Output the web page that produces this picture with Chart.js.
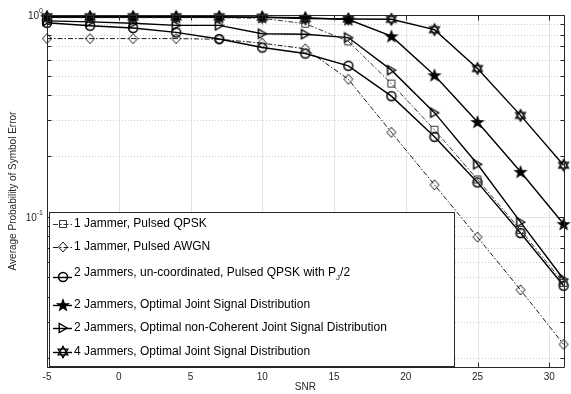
<!DOCTYPE html>
<html>
<head>
<meta charset="utf-8">
<script src="https://cdn.jsdelivr.net/npm/chart.js@4.4.1/dist/chart.umd.min.js"></script>
<style>
  html, body { margin: 0; padding: 0; background: #fff; }
  #wrap { width: 571px; height: 394px; }
</style>
</head>
<body>
<div id="wrap"><canvas id="chart" width="571" height="394"></canvas></div>
<script>
// SNR points (dB)
const snr = [-5, -2, 1, 4, 7, 10, 13, 16, 19, 22, 25, 28, 31];

// average probability of symbol error
const oneJamQpsk   = [0.97, 0.97, 0.97, 0.97, 0.97, 0.962, 0.906, 0.740, 0.457, 0.270, 0.153, 0.086, 0.047];
const oneJamAwgn   = [0.764, 0.764, 0.764, 0.764, 0.758, 0.725, 0.680, 0.480, 0.262, 0.144, 0.0792, 0.0434, 0.0233];
const twoJamUncoord = [0.915, 0.885, 0.862, 0.820, 0.760, 0.690, 0.644, 0.560, 0.396, 0.249, 0.148, 0.083, 0.0455];
const twoJamJoint  = [0.975, 0.975, 0.975, 0.975, 0.975, 0.975, 0.970, 0.950, 0.785, 0.503, 0.295, 0.167, 0.092];
const twoJamNonCoh = [0.935, 0.925, 0.910, 0.888, 0.888, 0.808, 0.803, 0.773, 0.533, 0.328, 0.182, 0.094, 0.049];
const fourJamJoint = [0.98, 0.98, 0.98, 0.98, 0.98, 0.975, 0.960, 0.955, 0.952, 0.846, 0.543, 0.318, 0.180];

const labels = [
  "1 Jammer, Pulsed QPSK",
  "1 Jammer, Pulsed AWGN",
  "2 Jammers, un-coordinated, Pulsed QPSK with P",
  "2 Jammers, Optimal Joint Signal Distribution",
  "2 Jammers, Optimal non-Coherent Joint Signal Distribution",
  "4 Jammers, Optimal Joint Signal Distribution"
];

const xTicks = [-5, 0, 5, 10, 15, 20, 25, 30];
const yTicks = [0.02, 0.03, 0.04, 0.05, 0.06, 0.07, 0.08, 0.09, 0.1,
                0.2, 0.3, 0.4, 0.5, 0.6, 0.7, 0.8, 0.9, 1];
const yMajor = [0.1, 1];

const FONT = "'Liberation Sans', Arial, sans-serif";
const AXIS_COLOR = "#262626";

// markers drawn like the matlab ones (unfilled, except the pentagram)
function marker(kind) {
  const size = 16;
  const c = document.createElement("canvas");
  c.width = size; c.height = size;
  const g = c.getContext("2d");
  const m = size / 2;
  g.strokeStyle = "#000";
  g.fillStyle = "#000";
  g.lineWidth = 1.3;
  g.beginPath();
  if (kind === "square") {
    g.strokeStyle = "#333";
    g.lineWidth = 1;
    g.rect(m - 3.5, m - 3.5, 7, 7);
  } else if (kind === "diamond") {
    g.lineWidth = 0.9;
    g.moveTo(m, m - 5); g.lineTo(m + 4.5, m); g.lineTo(m, m + 5); g.lineTo(m - 4.5, m);
    g.closePath();
  } else if (kind === "circle") {
    g.lineWidth = 1.5;
    g.arc(m, m, 4.5, 0, Math.PI * 2);
  } else if (kind === "pentagram") {
    for (let i = 0; i < 10; i++) {
      const r = i % 2 === 0 ? 5.6 : 2.3;
      const a = -Math.PI / 2 + i * Math.PI / 5;
      const px = m + r * Math.cos(a), py = m + 0.5 + r * Math.sin(a);
      if (i === 0) g.moveTo(px, py); else g.lineTo(px, py);
    }
    g.closePath();
    g.fill();
  } else if (kind === "triangle") {
    g.lineWidth = 1.4;
    g.moveTo(m + 4.2, m); g.lineTo(m - 3.8, m - 4.6); g.lineTo(m - 3.8, m + 4.6);
    g.closePath();
  } else if (kind === "hexagram") {
    const R = 5.6;
    for (let t = 0; t < 2; t++) {
      for (let i = 0; i < 3; i++) {
        const a = (t === 0 ? -Math.PI / 2 : Math.PI / 2) + i * 2 * Math.PI / 3;
        const px = m + R * Math.cos(a), py = m + R * Math.sin(a);
        if (i === 0) g.moveTo(px, py); else g.lineTo(px, py);
      }
      g.closePath();
    }
  }
  g.stroke();
  return c;
}

const series = [
  { data: oneJamQpsk,    mk: marker("square"),    color: "#222", width: 0.9, dash: [5, 2, 1.5, 2] },
  { data: oneJamAwgn,    mk: marker("diamond"),   color: "#000", width: 0.9, dash: [5, 2, 1.5, 2] },
  { data: twoJamUncoord, mk: marker("circle"),    color: "#000", width: 1.4, dash: [] },
  { data: twoJamJoint,   mk: marker("pentagram"), color: "#000", width: 1.4, dash: [] },
  { data: twoJamNonCoh,  mk: marker("triangle"),  color: "#000", width: 1.4, dash: [] },
  { data: fourJamJoint,  mk: marker("hexagram"),  color: "#000", width: 1.4, dash: [] }
];

const datasets = series.map((s, i) => ({
  label: labels[i],
  data: snr.map((x, k) => ({ x: x, y: s.data[k] })),
  borderColor: s.color,
  borderWidth: s.width,
  borderDash: s.dash,
  pointStyle: s.mk,
  pointRadius: 6,
  pointHoverRadius: 6,
  fill: false,
  tension: 0,
  clip: false
}));

// legend rows (marker centre y, text centre y)
const legendRows = [
  [224, 224], [247, 247], [277, 273], [305, 305], [328, 328], [352, 352]
];

const matlabAxes = {
  id: "matlabAxes",
  beforeDraw(chart) {
    const ctx = chart.ctx;
    ctx.save();
    ctx.fillStyle = "#fff";
    ctx.fillRect(0, 0, chart.width, chart.height);
    ctx.restore();
  },
  beforeDatasetsDraw(chart) {
    const ctx = chart.ctx;
    const a = chart.chartArea;
    const xs = chart.scales.x, ys = chart.scales.y;
    ctx.save();
    ctx.lineWidth = 1;
    // vertical major grid
    ctx.strokeStyle = "#e2e2e2";
    xTicks.forEach(v => {
      const px = Math.round(xs.getPixelForValue(v)) + 0.5;
      ctx.beginPath(); ctx.moveTo(px, a.top); ctx.lineTo(px, a.bottom); ctx.stroke();
    });
    // horizontal grid, major solid and minor dotted
    yTicks.forEach(v => {
      const py = Math.round(ys.getPixelForValue(v)) + 0.5;
      if (yMajor.includes(v)) {
        ctx.strokeStyle = "#e2e2e2";
        ctx.setLineDash([]);
      } else {
        ctx.strokeStyle = "#cdcdcd";
        ctx.setLineDash([1, 2]);
      }
      ctx.beginPath(); ctx.moveTo(a.left, py); ctx.lineTo(a.right, py); ctx.stroke();
    });
    ctx.restore();
  },
  afterDatasetsDraw(chart) {
    const ctx = chart.ctx;
    const a = chart.chartArea;
    const xs = chart.scales.x, ys = chart.scales.y;
    ctx.save();
    ctx.strokeStyle = AXIS_COLOR;
    ctx.lineWidth = 1;
    const L = Math.round(a.left) + 0.5, R = Math.round(a.right) + 0.5;
    const T = Math.round(a.top) + 0.5, B = Math.round(a.bottom) + 0.5;
    ctx.beginPath();
    ctx.rect(L, T, R - L, B - T);
    ctx.stroke();
    // inward tick marks
    ctx.beginPath();
    xTicks.forEach(v => {
      const px = Math.round(xs.getPixelForValue(v)) + 0.5;
      ctx.moveTo(px, B); ctx.lineTo(px, B - 5);
      ctx.moveTo(px, T); ctx.lineTo(px, T + 5);
    });
    yTicks.forEach(v => {
      const py = Math.round(ys.getPixelForValue(v)) + 0.5;
      const len = yMajor.includes(v) ? 6 : 4;
      ctx.moveTo(L, py); ctx.lineTo(L + len, py);
      ctx.moveTo(R, py); ctx.lineTo(R - len, py);
    });
    ctx.stroke();

    // y tick labels as 10 with superscript exponent
    ctx.fillStyle = AXIS_COLOR;
    ctx.textBaseline = "middle";
    ctx.textAlign = "left";
    [[1, "0"], [0.1, "-1"]].forEach(([v, ex]) => {
      const py = ys.getPixelForValue(v);
      ctx.font = "10px " + FONT;
      const w1 = ctx.measureText("10").width;
      ctx.font = "7px " + FONT;
      const w2 = ctx.measureText(ex).width;
      const xEnd = 43;
      ctx.font = "10px " + FONT;
      ctx.fillText("10", xEnd - w2 - w1, py + 1);
      ctx.font = "7px " + FONT;
      ctx.fillText(ex, xEnd - w2, py - 4);
    });
    ctx.restore();
  },
  afterDraw(chart) {
    const ctx = chart.ctx;
    ctx.save();
    // legend box
    const bx = 49.5, by = 212.5, bw = 405, bh = 154;
    ctx.fillStyle = "#fff";
    ctx.fillRect(bx, by, bw, bh);
    ctx.strokeStyle = AXIS_COLOR;
    ctx.lineWidth = 1;
    ctx.strokeRect(bx, by, bw, bh);

    chart.data.datasets.forEach((ds, i) => {
      const [my, ty] = legendRows[i];
      ctx.save();
      ctx.strokeStyle = ds.borderColor;
      ctx.lineWidth = ds.borderWidth;
      ctx.setLineDash(ds.borderDash);
      ctx.beginPath();
      ctx.moveTo(53, my + 0.5); ctx.lineTo(72, my + 0.5);
      ctx.stroke();
      ctx.restore();
      const img = ds.pointStyle;
      ctx.drawImage(img, 63 - img.width / 2, my - img.height / 2);

      ctx.fillStyle = "#000";
      ctx.textBaseline = "middle";
      ctx.textAlign = "left";
      ctx.font = "12px " + FONT;
      ctx.fillText(ds.label, 74, ty);
      if (i === 2) {
        let x = 74 + ctx.measureText(ds.label).width;
        ctx.font = "8px " + FONT;
        ctx.fillText("J", x, ty + 5);
        x += ctx.measureText("J").width;
        ctx.font = "12px " + FONT;
        ctx.fillText("/2", x, ty);
      }
    });
    ctx.restore();
  }
};

new Chart(document.getElementById("chart"), {
  type: "line",
  data: { datasets: datasets },
  plugins: [matlabAxes],
  options: {
    responsive: false,
    animation: false,
    devicePixelRatio: 1,
    layout: { padding: { top: 15, right: 5, left: 0, bottom: 0 } },
    plugins: {
      legend: { display: false },
      tooltip: { enabled: false }
    },
    scales: {
      x: {
        type: "linear",
        min: -5,
        max: 31,
        afterBuildTicks: s => { s.ticks = xTicks.map(v => ({ value: v })); },
        afterFit: s => { s.height = 27; },
        grid: { display: false, drawTicks: false },
        border: { display: false },
        ticks: {
          padding: 4,
          maxRotation: 0,
          autoSkip: false,
          color: AXIS_COLOR,
          font: { family: FONT, size: 10 }
        },
        title: {
          display: true,
          text: "SNR",
          color: AXIS_COLOR,
          font: { family: FONT, size: 10 },
          padding: { top: 0, bottom: 1 }
        }
      },
      y: {
        type: "logarithmic",
        min: 0.018,
        max: 1,
        afterBuildTicks: s => { s.ticks = yTicks.map(v => ({ value: v })); },
        afterFit: s => { s.width = 47; },
        grid: { display: false, drawTicks: false },
        border: { display: false },
        ticks: { display: false },
        title: {
          display: true,
          text: "Average Probability of Symbol Error",
          color: AXIS_COLOR,
          font: { family: FONT, size: 10 },
          padding: { top: 7, bottom: 0 }
        }
      }
    }
  }
});
</script>
</body>
</html>
